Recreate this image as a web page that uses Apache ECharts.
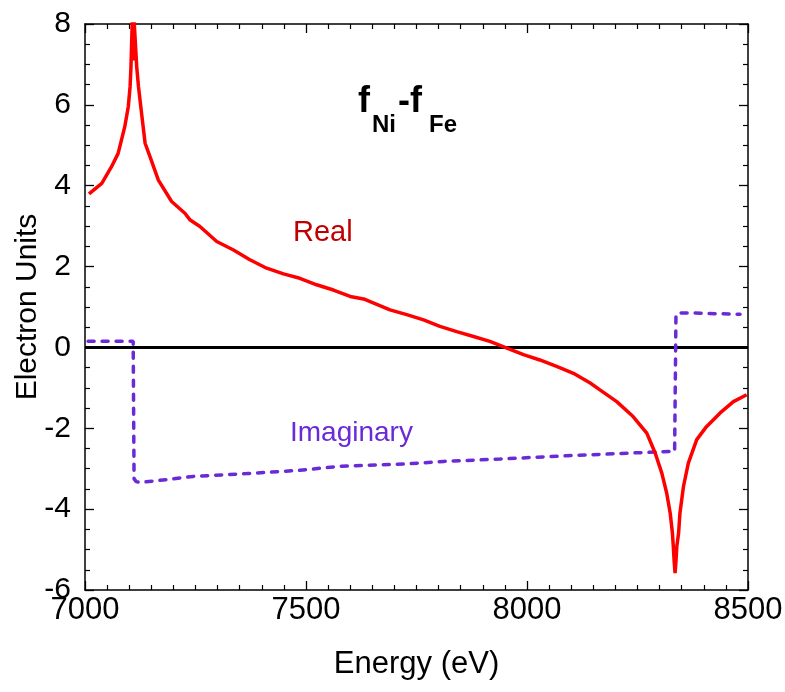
<!DOCTYPE html>
<html><head><meta charset="utf-8">
<script src="https://cdn.jsdelivr.net/npm/echarts@6/dist/echarts.min.js"></script>
<style>html,body{margin:0;padding:0;background:#fff}#c{width:785px;height:692px}</style>
</head><body><div id="c"></div>
<script>
// Real part of f_Ni - f_Fe
const realEnergy = [7009,7038,7060,7075,7090,7098,7102,7104,7107,7109,7111,7117,7121,7128,7136,7147,7166,7196,7226,7238,7260,7298,7336,7373,7411,7449,7486,7524,7562,7600,7633,7690,7728,7766,7803,7841,7879,7916,7946,7992,8029,8067,8105,8143,8165,8203,8240,8271,8290,8305,8316,8324,8329,8331,8333,8335,8337,8339,8343,8346,8354,8365,8384,8406,8437,8467,8497];
const realValue  = [3.80,4.06,4.47,4.80,5.46,5.96,6.45,6.94,8.1,7.1,8.1,6.94,6.45,5.79,5.05,4.72,4.14,3.61,3.32,3.15,2.99,2.62,2.41,2.17,1.96,1.82,1.71,1.55,1.42,1.26,1.19,0.93,0.81,0.68,0.52,0.39,0.27,0.15,0.02,-0.18,-0.31,-0.47,-0.64,-0.88,-1.05,-1.34,-1.71,-2.12,-2.61,-3.11,-3.60,-4.10,-4.59,-4.92,-5.3,-5.58,-5.3,-4.92,-4.59,-4.10,-3.44,-2.86,-2.28,-1.96,-1.62,-1.34,-1.17];
// Imaginary part
const imagEnergy = [7007,7109,7111,7116,7124,7185,7245,7366,7486,7577,7728,7811,7939,8090,8240,8334,8337,8341,8376,8482];
const imagValue  = [0.15,0.15,-3.25,-3.32,-3.34,-3.27,-3.19,-3.12,-3.04,-2.94,-2.88,-2.82,-2.76,-2.68,-2.61,-2.57,0.80,0.85,0.85,0.82];
// zero reference line
const zeroEnergy = [7000, 8500];
const zeroValue  = [0, 0];
// axes
const xMin = 7000, xMax = 8500, xStep = 500;
const yMin = -6, yMax = 8, yStep = 2;
const xTitle = 'Energy (eV)';
const yTitle = 'Electron Units';

const FF = 'Arial, "Liberation Sans", Helvetica, sans-serif';
const zip = (a, b) => a.map((v, i) => [v, b[i]]);

const baseX = {
  type: 'value', min: xMin, max: xMax, interval: xStep,
  axisLine: {show: true, onZero: false, lineStyle: {color: '#000', width: 1.5}},
  axisTick: {show: true, inside: true, length: 9, lineStyle: {color: '#000', width: 1.3}},
  minorTick: {show: true, splitNumber: 10, length: 5, lineStyle: {color: '#000', width: 1.2}},
  splitLine: {show: false}, minorSplitLine: {show: false}
};
const baseY = {
  type: 'value', min: yMin, max: yMax, interval: yStep,
  axisLine: {show: true, onZero: false, lineStyle: {color: '#000', width: 1.5}},
  axisTick: {show: true, inside: true, length: 9, lineStyle: {color: '#000', width: 1.3}},
  minorTick: {show: true, splitNumber: 4, length: 5, lineStyle: {color: '#000', width: 1.2}},
  splitLine: {show: false}, minorSplitLine: {show: false}
};

const chart = echarts.init(document.getElementById('c'), null, {renderer: 'canvas'});
chart.setOption({
  animation: false,
  backgroundColor: '#fff',
  grid: {left: 85, right: 37, top: 24, bottom: 102, containLabel: false, outerBoundsMode: 'none'},
  xAxis: [
    Object.assign({}, baseX, {
      position: 'bottom',
      axisLabel: {show: true, fontSize: 31, color: '#000', fontFamily: FF, margin: 5,
                  formatter: v => String(v)},
      name: xTitle, nameLocation: 'middle', nameGap: 59,
      nameTextStyle: {fontSize: 31, color: '#000', fontFamily: FF}
    }),
    Object.assign({}, baseX, {position: 'top', axisLabel: {show: false}})
  ],
  yAxis: [
    Object.assign({}, baseY, {
      position: 'left',
      axisLabel: {show: true, fontSize: 30, color: '#000', fontFamily: FF, margin: 14,
                  formatter: v => String(v)}
    }),
    Object.assign({}, baseY, {position: 'right', axisLabel: {show: false}})
  ],
  graphic: [
    {type: 'text', x: 28, y: 307, rotation: Math.PI / 2,
     style: {text: yTitle, fontSize: 30, fontFamily: FF, fill: '#000', align: 'center', verticalAlign: 'middle'}},
    {type: 'text', x: 358, y: 102, style: {text: 'f', fontSize: 36, fontWeight: 'bold', fontFamily: FF, fill: '#000', align: 'left', verticalAlign: 'middle'}},
    {type: 'text', x: 372, y: 125, style: {text: 'Ni', fontSize: 24, fontWeight: 'bold', fontFamily: FF, fill: '#000', align: 'left', verticalAlign: 'middle'}},
    {type: 'text', x: 398, y: 102, style: {text: '-f', fontSize: 36, fontWeight: 'bold', fontFamily: FF, fill: '#000', align: 'left', verticalAlign: 'middle'}},
    {type: 'text', x: 429, y: 125, style: {text: 'Fe', fontSize: 24, fontWeight: 'bold', fontFamily: FF, fill: '#000', align: 'left', verticalAlign: 'middle'}},
    {type: 'text', x: 293, y: 233, style: {text: 'Real', fontSize: 29, fontFamily: FF, fill: '#c00000', align: 'left', verticalAlign: 'middle'}},
    {type: 'text', x: 290, y: 433, style: {text: 'Imaginary', fontSize: 28, fontFamily: FF, fill: '#6a2bd6', align: 'left', verticalAlign: 'middle'}}
  ],
  series: [
    {name: 'zero', type: 'line', data: zip(zeroEnergy, zeroValue), symbol: 'none', silent: true,
     lineStyle: {color: '#000', width: 3}},
    {name: 'Imaginary', type: 'line', data: zip(imagEnergy, imagValue), symbol: 'none', clip: true,
     lineStyle: {color: '#6a2bd6', width: 3.5, type: [6, 8], cap: 'round'}},
    {name: 'Real', type: 'line', data: zip(realEnergy, realValue), symbol: 'none', clip: true,
     lineStyle: {color: '#ff0000', width: 3.5}}
  ]
});
</script></body></html>
